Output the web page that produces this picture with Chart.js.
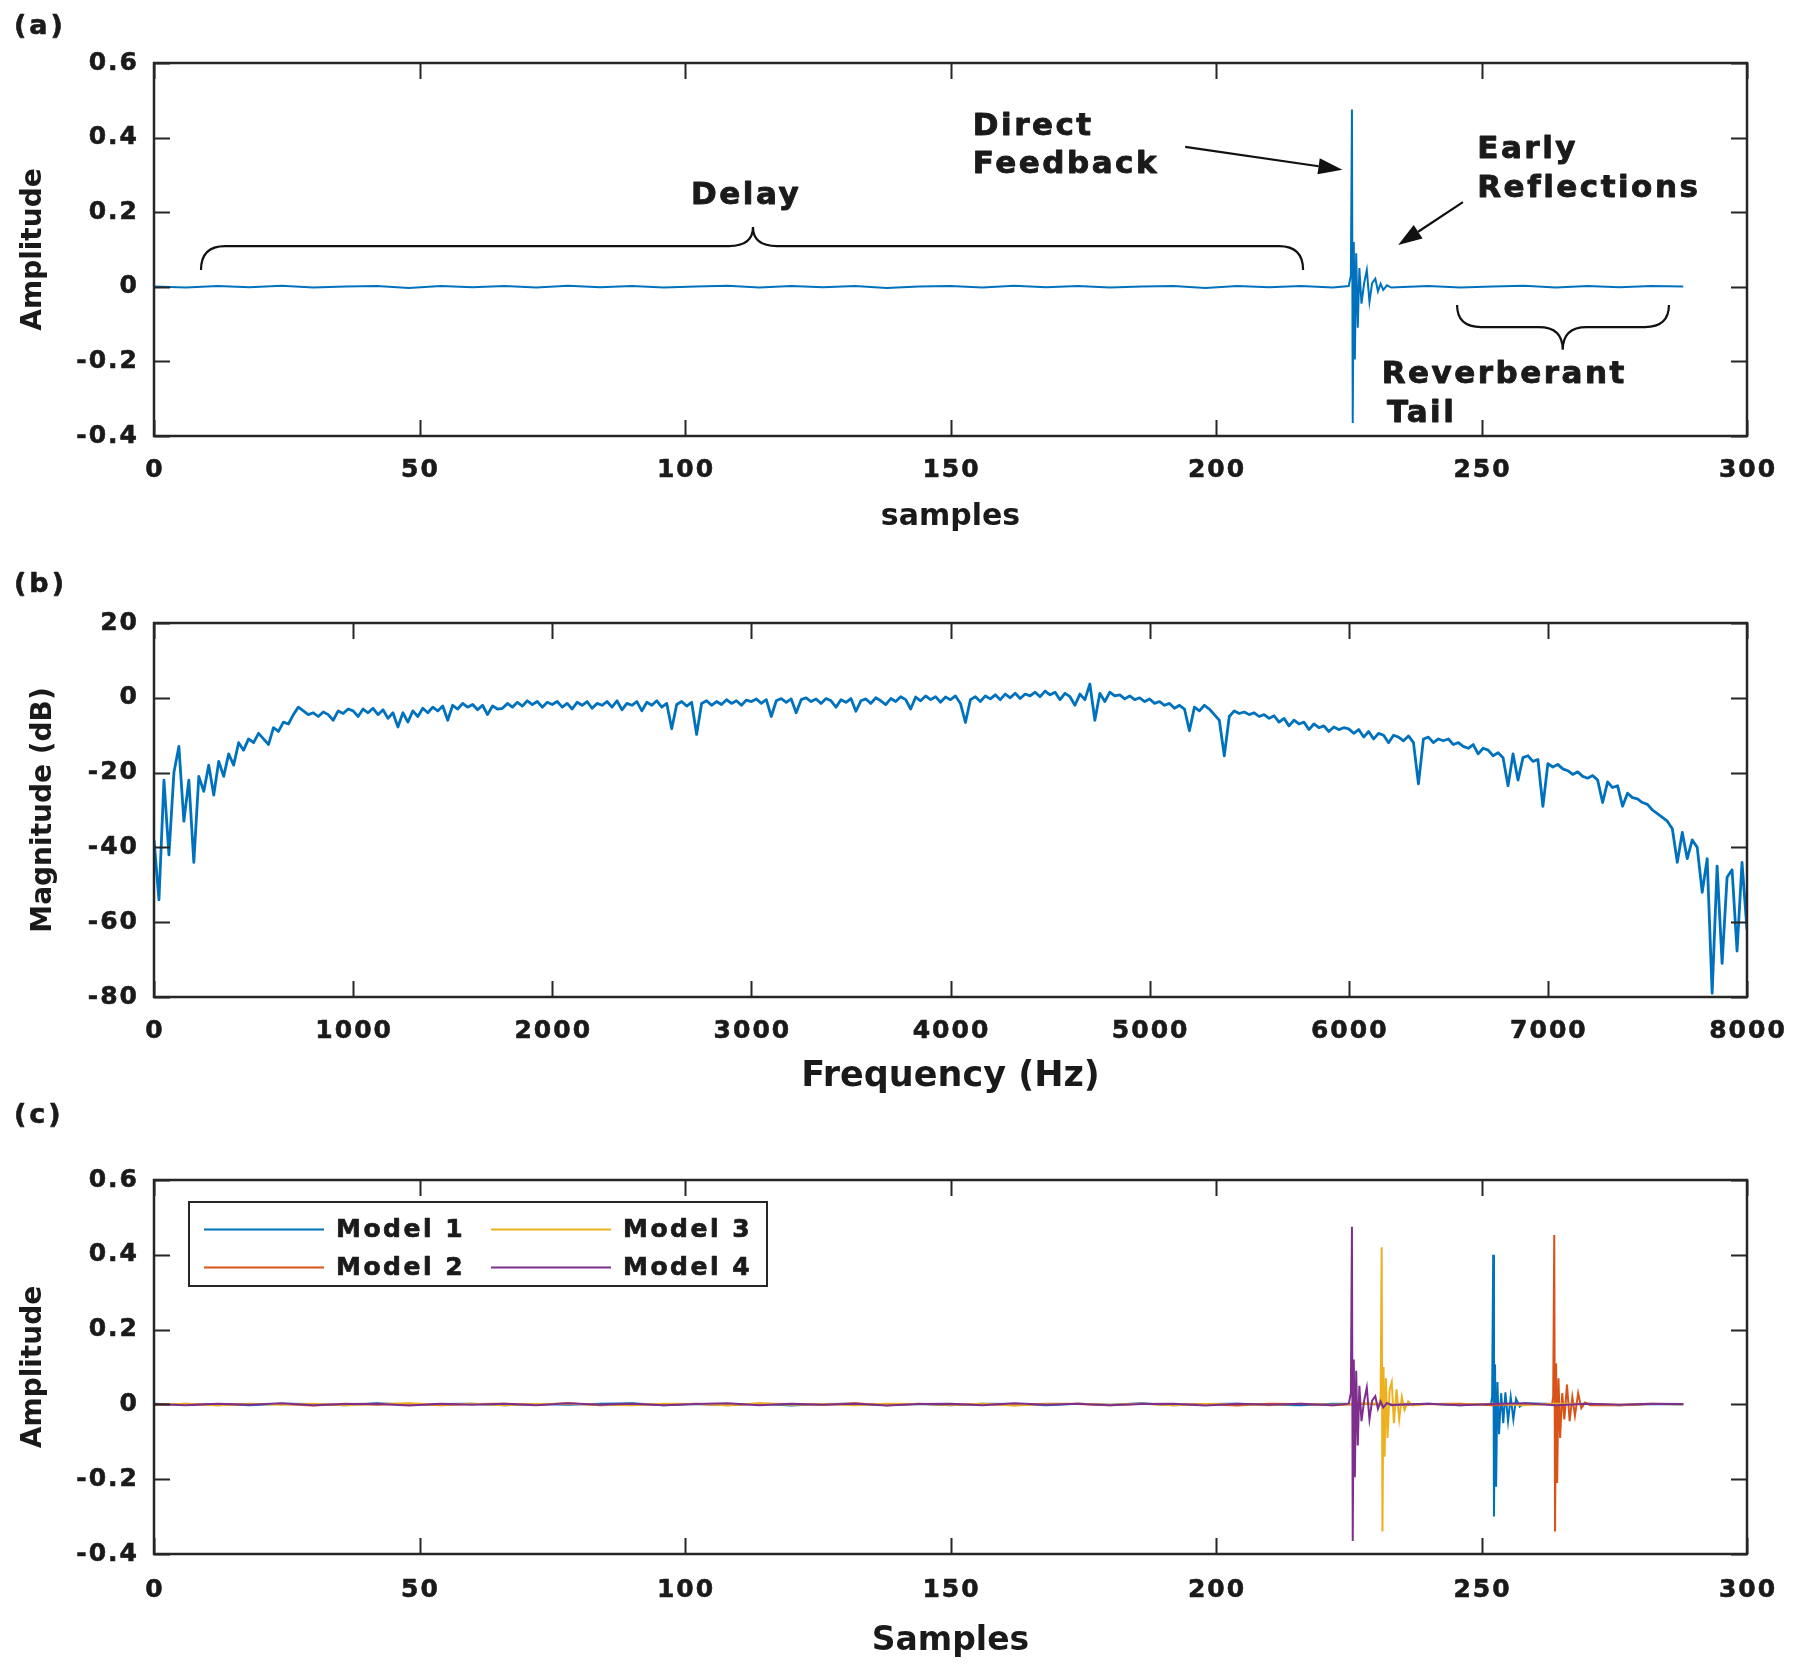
<!DOCTYPE html>
<html>
<head>
<meta charset="utf-8">
<script src="https://cdn.jsdelivr.net/npm/chart.js@4.4.1/dist/chart.umd.min.js"></script>
<style>
  html, body { margin: 0; padding: 0; background: #fff; }
  body { width: 1800px; height: 1674px; position: relative; overflow: hidden; }
  canvas { position: absolute; left: 0; }
</style>
</head>
<body>
<canvas id="chartA" width="1800" height="560" style="top:0"></canvas>
<canvas id="chartB" width="1800" height="540" style="top:560px"></canvas>
<canvas id="chartC" width="1800" height="574" style="top:1100px"></canvas>
<script>
// ---- ticks ----
const sampleTicks = [0, 50, 100, 150, 200, 250, 300];
const sampleTickLabels = ['0', '50', '100', '150', '200', '250', '300'];
const ampTicks = [-0.4, -0.2, 0, 0.2, 0.4, 0.6];
const ampTickLabels = ['-0.4', '-0.2', '0', '0.2', '0.4', '0.6'];
const freqTicks = [0, 1000, 2000, 3000, 4000, 5000, 6000, 7000, 8000];
const freqTickLabels = ['0', '1000', '2000', '3000', '4000', '5000', '6000', '7000', '8000'];
const dbTicks = [-80, -60, -40, -20, 0, 20];
const dbTickLabels = ['-80', '-60', '-40', '-20', '0', '20'];

// ---- impulse responses: low-level floor sampled every 6 samples (0..288) ----
const floorStep = 6;
const floorA = [0.001,-0.002,0.002,-0.001,0.003,-0.002,0.001,0.002,-0.003,0.002,
  -0.001,0.002,-0.002,0.003,-0.001,0.002,-0.002,0.001,0.003,-0.002,
  0.002,-0.001,0.002,-0.003,0.001,0.002,-0.002,0.003,-0.001,0.002,
  -0.002,0.001,0.002,-0.003,0.002,-0.001,0.002,-0.002,0.003,-0.001,
  0.002,-0.002,0.001,0.003,-0.002,0.002,-0.001,0.002,0.001];
const floor1 = [0.002,-0.001,0.001,-0.002,0.002,0.001,-0.002,0.003,-0.001,0.001,
  0.002,-0.002,0.001,-0.001,0.002,0.003,-0.002,0.001,-0.001,0.002,
  -0.003,0.001,0.002,-0.001,0.001,-0.002,0.002,0.001,-0.002,0.002,
  -0.001,0.003,-0.002,0.001,0.002,-0.001,-0.002,0.002,0.001,-0.001,
  0.002,-0.002,0.003,-0.001,0.001,0.002,-0.002,0.001,0.000];
const floor2 = [-0.001,0.002,-0.002,0.001,0.001,-0.003,0.002,-0.001,0.002,-0.002,
  0.001,0.002,-0.001,0.003,-0.002,0.001,-0.001,0.002,-0.002,0.002,
  0.001,-0.001,0.003,-0.002,0.002,-0.001,0.001,-0.002,0.002,0.001,
  -0.002,0.002,-0.001,0.001,-0.003,0.002,0.001,-0.002,0.002,-0.001,
  0.001,0.002,-0.002,0.001,-0.001,0.002,-0.002,0.001,0.001];
const floor3 = [0.001,0.001,-0.002,0.002,-0.001,0.002,-0.002,0.001,0.003,-0.001,
  0.002,-0.002,0.001,0.002,-0.001,-0.002,0.002,0.001,-0.002,0.003,
  -0.001,0.001,-0.002,0.002,0.001,-0.001,0.002,-0.003,0.001,0.002,
  -0.001,0.002,-0.002,0.001,0.001,-0.002,0.002,-0.001,0.003,-0.002,
  0.001,-0.001,0.002,-0.002,0.002,0.001,-0.001,0.002,0.000];

// direct path + early reflections (sample position, amplitude)
const respAX = [225.0, 225.4, 225.6, 225.75, 225.95, 226.15, 226.4, 226.7, 227.0, 227.4, 227.9, 228.4, 228.9, 229.4, 230.0, 230.5, 231.0, 231.5, 232.2, 233.0];
const respAY = [0.002, 0.03, 0.475, -0.365, 0.12, -0.195, 0.09, -0.11, 0.05, -0.045, 0.01, 0.045, -0.04, 0.01, 0.022, -0.012, 0.008, -0.008, 0.004, -0.002];
const resp1X = [251.8, 252.0, 252.2, 252.35, 252.55, 252.75, 253.0, 253.3, 253.7, 254.1, 254.5, 255.0, 255.5, 256.0, 256.5, 257.2, 258.0];
const resp1Y = [0.002, 0.02, 0.40, -0.30, 0.107, -0.22, 0.06, -0.08, 0.03, -0.05, 0.032, -0.045, 0.02, -0.04, 0.015, -0.006, 0.003];
const resp2X = [263.3, 263.5, 263.7, 263.85, 264.05, 264.25, 264.5, 264.8, 265.2, 265.6, 266.1, 266.6, 267.1, 267.6, 268.2, 268.8, 269.5, 270.5];
const resp2Y = [0.002, 0.02, 0.453, -0.34, 0.11, -0.21, 0.07, -0.09, 0.03, -0.04, 0.053, -0.045, 0.02, -0.03, 0.03, -0.01, 0.005, -0.002];
const resp3X = [230.8, 231.0, 231.2, 231.35, 231.55, 231.75, 232.0, 232.3, 232.7, 233.1, 233.5, 234.0, 234.5, 235.0, 235.5, 236.2, 237.0];
const resp3Y = [0.002, 0.02, 0.42, -0.34, 0.10, -0.14, 0.07, -0.09, 0.04, 0.06, -0.05, 0.04, -0.04, 0.02, -0.015, 0.008, -0.003];

// ---- magnitude response, one value every 25 Hz (0..8000 Hz) ----
const freqStep = 25;
const magDb = [
  -38, -54, -22, -42, -20, -13, -33, -22, -44, -21, -25, -18, -26, -17, -21, -15, -18, -12, -14, -11,
  -12, -9.5, -11, -12.5, -8, -9, -6.5, -7, -4.5, -2.5, -3.5, -4.5, -4, -5, -3.8, -4.5, -6, -3.5, -4.2, -3,
  -3.5, -5, -3, -4, -2.8, -4.5, -3.2, -5.5, -4, -7.8, -4, -6.5, -3.5, -5, -2.8, -4, -2.5, -3.5, -2.2, -6,
  -2, -3, -1.5, -2.5, -1.8, -3.2, -2, -4.5, -2.2, -3, -2.8, -1.5, -2.5, -1.2, -2.2, -0.8, -1.8, -1, -2.5, -1.2,
  -1.8, -1, -2.5, -1.5, -3, -1.2, -2, -1, -2.8, -1.5, -2, -1, -2.5, -0.8, -3.2, -1.5, -2, -1, -3.5, -1.2,
  -2, -0.8, -2.5, -1.5, -8.3, -1.8, -1, -2.2, -1.2, -9.8, -1.5, -0.8, -2, -1, -1.8, -0.5, -1.5, -0.8, -2, -0.6,
  -1, -0.3, -1.5, -0.5, -5, -0.8, -0.2, -1.2, -0.3, -4, -0.5, 0, -1, -0.3, -1.5, -0.2, -0.8, -2.5, -0.5, -1.2,
  -0.2, -3.6, -0.8, -0.3, -1.5, 0, -0.8, -1.8, -0.2, -1, 0.3, -0.5, -3, 0.2, -0.8, 0.5, -0.5, 0.3, -1.2, 0.2,
  -0.5, 0.5, -1.5, -6.6, -0.5, 0.3, -1, 0.5, -0.3, 0.8, -0.5, 1, 0, 1.2, -0.2, 1, 0.5, 1.5, 0.3, 1.8,
  0.8, 1.5, -0.5, 1.2, 0.3, -2, 1, -0.5, 3.7, -6, 1.2, -1, 1.5, 0.5, 0.8, -0.3, 0.5, -0.5, 0, -1,
  -0.3, -1.5, -1, -2, -1.5, -2.8, -2, -3, -8.8, -2.5, -3.5, -2, -3, -4.5, -6, -15.5, -5, -3.5, -4.2, -3.8,
  -4.5, -4, -5, -4.5, -5.5, -4.8, -6.5, -5.5, -7.5, -6, -7, -6.5, -8.5, -7, -8, -7.5, -9, -7.8, -8.5, -8,
  -8.3, -9.5, -8.5, -10.5, -9, -11, -9.5, -10, -12, -10, -10.5, -11.5, -10.2, -12, -23, -11, -10.5, -12, -11, -11.5,
  -11, -12.5, -12, -13, -13.5, -12.5, -15, -13.5, -14, -15.5, -14.7, -16, -23.5, -15, -22, -16, -15.5, -17, -16.5, -29,
  -17.6, -18.5, -17.8, -19, -19.5, -20.5, -19.8, -21, -21.5, -20.8, -22, -28, -22.5, -24, -23.5, -29, -25.5, -26.7, -27, -28,
  -28.5, -30, -31, -32, -33, -35, -44, -36, -43, -38, -40, -52, -43, -79, -45, -71, -48, -46, -67.7, -44,
  -62
];

// ---- panel (a) annotations, in data units ----
const annoLabels = [
  { text: 'Delay', x: 111.5, y: 0.222, align: 'center' },
  { text: 'Direct', x: 154.2, y: 0.408, align: 'left' },
  { text: 'Feedback', x: 154.2, y: 0.304, align: 'left' },
  { text: 'Early', x: 249.2, y: 0.345, align: 'left' },
  { text: 'Reflections', x: 249.2, y: 0.241, align: 'left' },
  { text: 'Reverberant', x: 231.2, y: -0.258, align: 'left' },
  { text: 'Tail', x: 232.2, y: -0.362, align: 'left' }
];
const annoArrows = [
  { x1: 194.2, y1: 0.375, x2: 223.8, y2: 0.314 },
  { x1: 246.5, y1: 0.227, x2: 234.3, y2: 0.112 }
];
const annoBraces = [
  { from: 8.85, to: 216.4, tip: 112.8, end: 0.045, line: 0.109, peak: 0.160 },
  { from: 245.4, to: 285.3, tip: 265.3, end: -0.049, line: -0.108, peak: -0.169 }
];

const modelNames = ['Model 1', 'Model 2', 'Model 3', 'Model 4'];
const modelColors = ['#0072BD', '#D95319', '#EDB120', '#7E2F8E'];

const FONT = '"DejaVu Sans", "Noto Sans", sans-serif';
const INK = '#1a1a1a';
const AXIS = '#262626';

// floor points outside the response window + response points
const buildIR = (floorVals, rx, ry) => {
  const pts = [];
  floorVals.forEach((v, i) => {
    const x = i * floorStep;
    if (x < rx[0] || x > rx[rx.length - 1]) pts.push({ x, y: v });
  });
  rx.forEach((x, i) => pts.push({ x, y: ry[i] }));
  return pts.sort((a, b) => a.x - b.x);
};

const irA = buildIR(floorA, respAX, respAY);
const ir1 = buildIR(floor1, resp1X, resp1Y);
const ir2 = buildIR(floor2, resp2X, resp2Y);
const ir3 = buildIR(floor3, resp3X, resp3Y);
const magPts = magDb.map((v, i) => ({ x: i * freqStep, y: v }));

// heavier bold text: fill plus a thin stroke in the same colour
const heavyText = (ctx, text, x, y, w) => {
  ctx.lineWidth = w;
  ctx.strokeStyle = ctx.fillStyle;
  ctx.lineJoin = 'round';
  ctx.strokeText(text, x, y);
  ctx.fillText(text, x, y);
};

// MATLAB-like box: inward ticks on all four sides, tick labels, panel letter
const matlabBox = {
  id: 'matlabBox',
  afterDraw(chart, args, o) {
    const { ctx, chartArea: a } = chart;
    const xs = chart.scales.x, ys = chart.scales.y;
    ctx.save();
    ctx.strokeStyle = AXIS;
    ctx.lineWidth = 2;
    ctx.beginPath();
    o.xTicks.forEach(v => {
      const px = Math.round(xs.getPixelForValue(v)) + 0.5;
      ctx.moveTo(px, a.bottom); ctx.lineTo(px, a.bottom - 16);
      ctx.moveTo(px, a.top); ctx.lineTo(px, a.top + 16);
    });
    o.yTicks.forEach(v => {
      const py = Math.round(ys.getPixelForValue(v)) + 0.5;
      ctx.moveTo(a.left, py); ctx.lineTo(a.left + 16, py);
      ctx.moveTo(a.right, py); ctx.lineTo(a.right - 16, py);
    });
    ctx.stroke();
    ctx.lineWidth = 2.5;
    ctx.strokeRect(a.left, a.top, a.right - a.left, a.bottom - a.top);

    ctx.fillStyle = INK;
    ctx.font = 'bold 25px ' + FONT;
    ctx.letterSpacing = '2px';
    ctx.textBaseline = 'middle';
    ctx.textAlign = 'center';
    o.xTicks.forEach((v, i) => heavyText(ctx, o.xLabels[i], xs.getPixelForValue(v) + 1, a.bottom + o.xLabelGap, 0.6));
    ctx.textAlign = 'right';
    o.yTicks.forEach((v, i) => heavyText(ctx, o.yLabels[i], a.left - 15, ys.getPixelForValue(v), 0.6));

    ctx.font = 'bold 27px ' + FONT;
    ctx.letterSpacing = '3px';
    ctx.textAlign = 'left';
    heavyText(ctx, o.panel, 14, o.panelY, 0.6);
    ctx.restore();
  }
};

const drawArrow = (ctx, x1, y1, x2, y2) => {
  const ang = Math.atan2(y2 - y1, x2 - x1);
  const len = 24, half = 8;
  const bx = x2 - len * Math.cos(ang), by = y2 - len * Math.sin(ang);
  ctx.beginPath();
  ctx.moveTo(x1, y1); ctx.lineTo(bx, by);
  ctx.stroke();
  ctx.beginPath();
  ctx.moveTo(x2, y2);
  ctx.lineTo(bx + half * Math.sin(ang), by - half * Math.cos(ang));
  ctx.lineTo(bx - half * Math.sin(ang), by + half * Math.cos(ang));
  ctx.closePath();
  ctx.fill();
};

const drawBrace = (ctx, xL, xR, xT, yE, yL, yT) => {
  const r = 24;
  ctx.beginPath();
  ctx.moveTo(xL, yE);
  ctx.quadraticCurveTo(xL, yL, xL + r, yL);
  ctx.lineTo(xT - r, yL);
  ctx.quadraticCurveTo(xT, yL, xT, yT);
  ctx.moveTo(xT, yT);
  ctx.quadraticCurveTo(xT, yL, xT + r, yL);
  ctx.lineTo(xR - r, yL);
  ctx.quadraticCurveTo(xR, yL, xR, yE);
  ctx.stroke();
};

const annotations = {
  id: 'annotations',
  afterDraw(chart) {
    const { ctx } = chart;
    const xs = chart.scales.x, ys = chart.scales.y;
    const X = v => xs.getPixelForValue(v), Y = v => ys.getPixelForValue(v);
    ctx.save();
    ctx.strokeStyle = '#111';
    ctx.fillStyle = '#111';
    ctx.lineWidth = 2.2;
    annoBraces.forEach(b => drawBrace(ctx, X(b.from), X(b.to), X(b.tip), Y(b.end), Y(b.line), Y(b.peak)));
    annoArrows.forEach(a => drawArrow(ctx, X(a.x1), Y(a.y1), X(a.x2), Y(a.y2)));
    ctx.fillStyle = INK;
    ctx.font = 'bold 31px ' + FONT;
    ctx.letterSpacing = '2.5px';
    ctx.textBaseline = 'alphabetic';
    annoLabels.forEach(l => {
      ctx.textAlign = l.align;
      heavyText(ctx, l.text, X(l.x), Y(l.y), 0.9);
    });
    ctx.restore();
  }
};

// two-column legend, column-major like MATLAB NumColumns = 2
const boxLegend = {
  id: 'boxLegend',
  afterDraw(chart) {
    const { ctx, chartArea: a } = chart;
    const left = a.left + 35, top = a.top + 22;
    ctx.save();
    ctx.fillStyle = '#fff';
    ctx.fillRect(left, top, 578, 84);
    ctx.strokeStyle = AXIS;
    ctx.lineWidth = 2;
    ctx.strokeRect(left, top, 578, 84);
    ctx.font = 'bold 25px ' + FONT;
    ctx.letterSpacing = '2.5px';
    ctx.textBaseline = 'middle';
    ctx.textAlign = 'left';
    const cols = [a.left + 50, a.left + 337];
    const rows = [a.top + 49.5, a.top + 87.5];
    chart.data.datasets.forEach((ds, i) => {
      const cx = cols[Math.floor(i / 2)], cy = rows[i % 2];
      ctx.strokeStyle = ds.borderColor;
      ctx.lineWidth = 2;
      ctx.beginPath();
      ctx.moveTo(cx, cy); ctx.lineTo(cx + 120, cy);
      ctx.stroke();
      ctx.fillStyle = INK;
      heavyText(ctx, ds.label, cx + 132, cy + 1, 0.7);
    });
    ctx.restore();
  }
};

const axisTitle = (text, size, pad) => ({
  display: true, text, color: INK,
  font: { family: FONT, size, weight: 'bold' },
  padding: pad
});

const makeScales = (o) => ({
  x: {
    type: 'linear', min: o.xMin, max: o.xMax,
    grid: { display: false }, border: { display: false },
    ticks: { display: false },
    afterBuildTicks: s => { s.ticks = o.xTicks.map(v => ({ value: v })); },
    afterFit: s => { s.height = o.xAxisH; },
    title: axisTitle(o.xTitle, o.xTitleSize, { top: 0, bottom: o.xTitlePad })
  },
  y: {
    type: 'linear', min: o.yMin, max: o.yMax,
    grid: { display: false }, border: { display: false },
    ticks: { display: false },
    afterBuildTicks: s => { s.ticks = o.yTicks.map(v => ({ value: v })); },
    afterFit: s => { s.width = 154; },
    title: axisTitle(o.yTitle, 28, { top: o.yTitlePad, bottom: 0 })
  }
});

const baseOptions = (o) => ({
  responsive: false,
  animation: false,
  events: [],
  layout: { autoPadding: false, padding: { left: 0, right: 53, top: o.padTop, bottom: 0 } },
  elements: { point: { radius: 0 }, line: { tension: 0 } },
  plugins: {
    legend: { display: false },
    tooltip: { enabled: false },
    matlabBox: {
      xTicks: o.xTicks, xLabels: o.xLabels, yTicks: o.yTicks, yLabels: o.yLabels,
      xLabelGap: o.xLabelGap, panel: o.panel, panelY: o.panelY
    }
  },
  scales: makeScales(o)
});

// (a) room impulse response
new Chart(document.getElementById('chartA'), {
  type: 'line',
  data: { datasets: [{ data: irA, borderColor: '#0072BD', borderWidth: 2 }] },
  options: baseOptions({
    xMin: 0, xMax: 300, yMin: -0.4, yMax: 0.6,
    xTicks: sampleTicks, xLabels: sampleTickLabels, yTicks: ampTicks, yLabels: ampTickLabels,
    xTitle: 'samples', xTitleSize: 30, xTitlePad: 25, xAxisH: 124,
    yTitle: 'Amplitude', yTitlePad: 17,
    padTop: 63, xLabelGap: 34, panel: '(a)', panelY: 27
  }),
  plugins: [matlabBox, annotations]
});

// (b) magnitude response
new Chart(document.getElementById('chartB'), {
  type: 'line',
  data: { datasets: [{ data: magPts, borderColor: '#0072BD', borderWidth: 2.8, borderJoinStyle: 'round' }] },
  options: baseOptions({
    xMin: 0, xMax: 8000, yMin: -80, yMax: 20,
    xTicks: freqTicks, xLabels: freqTickLabels, yTicks: dbTicks, yLabels: dbTickLabels,
    xTitle: 'Frequency (Hz)', xTitleSize: 35, xTitlePad: 2, xAxisH: 103,
    yTitle: 'Magnitude (dB)', yTitlePad: 27,
    padTop: 63, xLabelGap: 34, panel: '(b)', panelY: 25
  }),
  plugins: [matlabBox]
});

// (c) four model impulse responses
const irByModel = [ir1, ir2, ir3, irA];
new Chart(document.getElementById('chartC'), {
  type: 'line',
  data: {
    datasets: modelNames.map((name, i) => ({
      label: name, data: irByModel[i], borderColor: modelColors[i], borderWidth: 2, order: 4 - i
    }))
  },
  options: baseOptions({
    xMin: 0, xMax: 300, yMin: -0.4, yMax: 0.6,
    xTicks: sampleTicks, xLabels: sampleTickLabels, yTicks: ampTicks, yLabels: ampTickLabels,
    xTitle: 'Samples', xTitleSize: 33, xTitlePad: 13, xAxisH: 120,
    yTitle: 'Amplitude', yTitlePad: 17,
    padTop: 80, xLabelGap: 36, panel: '(c)', panelY: 16
  }),
  plugins: [matlabBox, boxLegend]
});
</script>
</body>
</html>
